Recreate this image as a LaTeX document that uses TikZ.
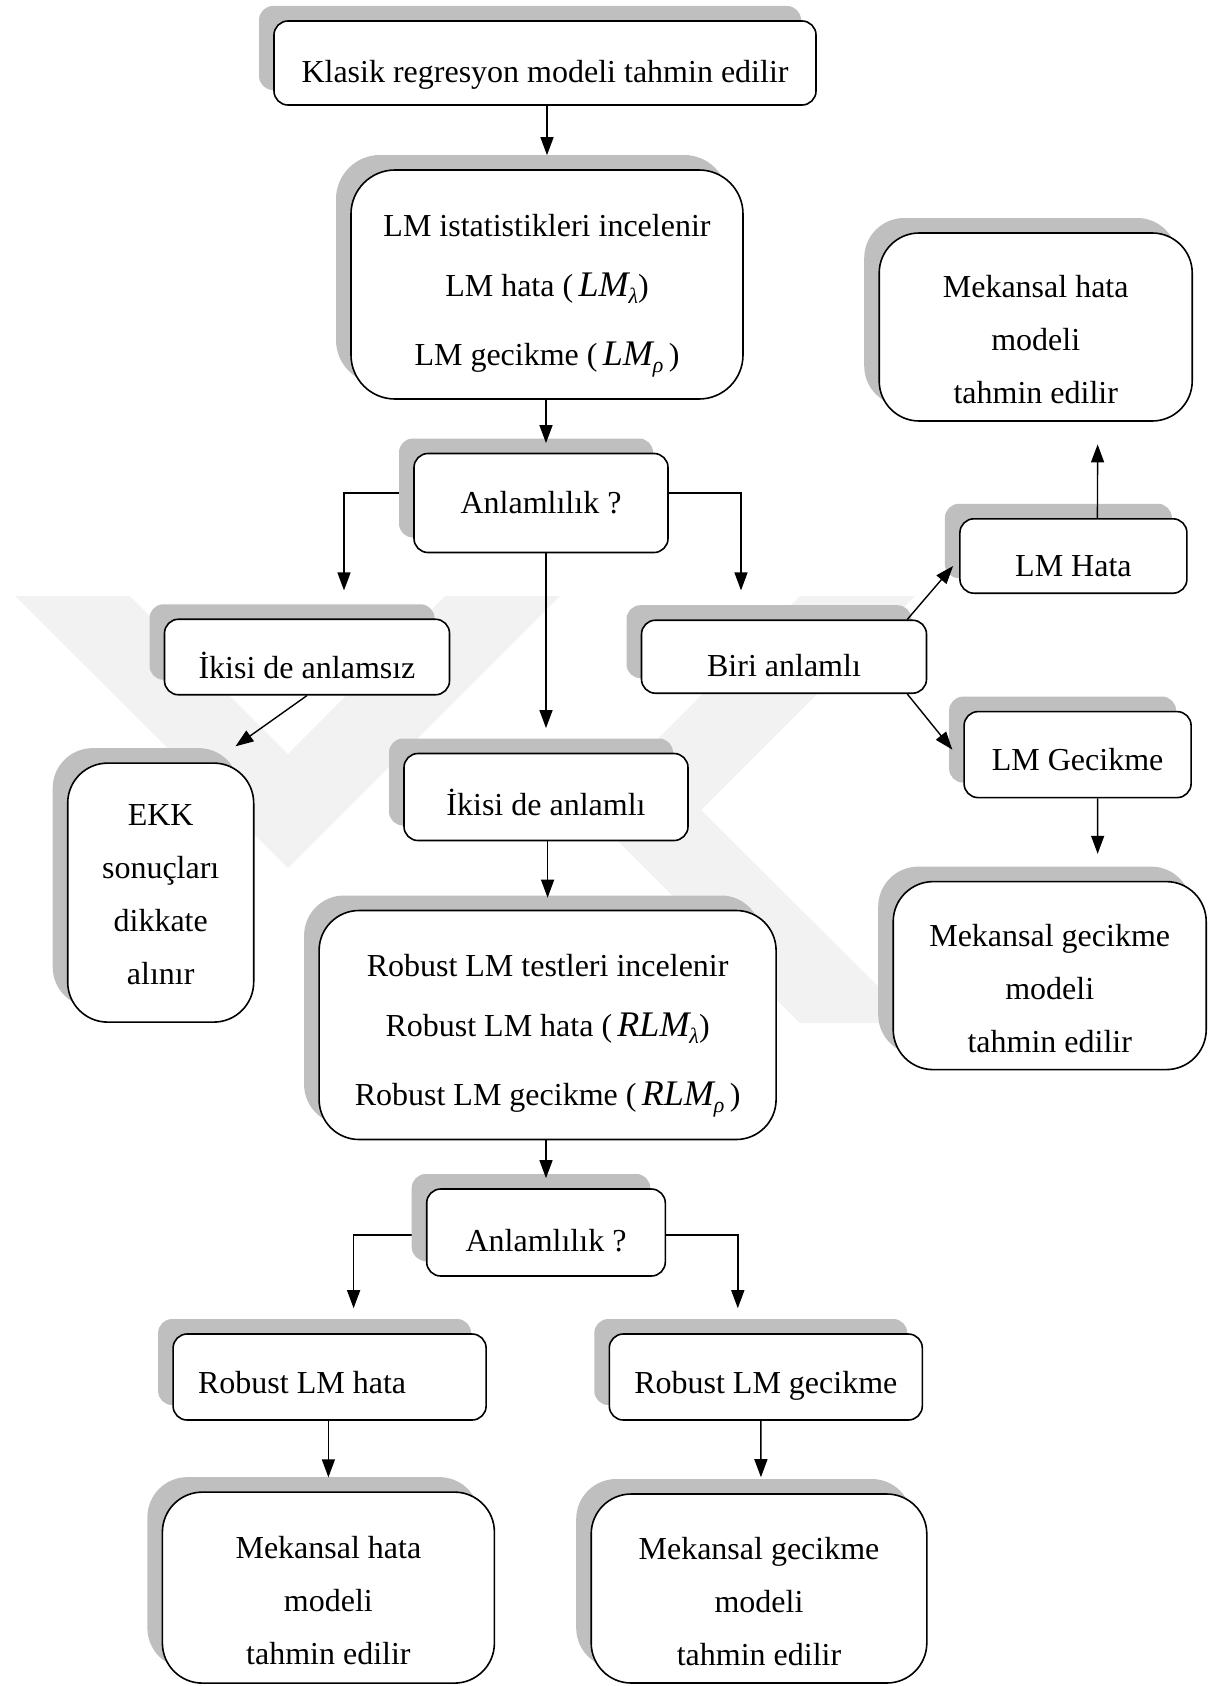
\documentclass[tikz,border=0pt]{standalone}
\usepackage{fontspec}
\setmainfont{Liberation Serif}
\usetikzlibrary{shadows,arrows.meta,backgrounds,calc}
\newcommand{\lmsym}[2]{{\fontsize{18}{18}\selectfont\itshape #1}\raisebox{-3.5pt}{\fontsize{11}{11}\selectfont\itshape #2}}
\begin{document}
\begin{tikzpicture}[x=0.5pt,y=-0.5pt,
  box/.style={draw=black, line width=0.8pt, fill=white, rounded corners=7pt,
    align=center, inner sep=0pt, font=\fontsize{16}{26.5}\selectfont,
    general shadow={fill=gray!50, shadow xshift=-7.5pt, shadow yshift=7.5pt}},
  bigbox/.style={box, rounded corners=20pt},
  base/.style={text height=#1, text depth=0pt},
  conn/.style={line width=0.7pt, black},
  arr/.style={conn, -{Triangle[length=9pt,width=6.5pt]}},
  wm/.style={fill=black!5, draw=none}]
\useasboundingbox (0,0) rectangle (1219,1686);

% watermark
\begin{scope}[on background layer]
  \fill[wm] (15,596) -- (130,596) -- (288,754) -- (445,596) -- (560,596) -- (288,868) -- cycle;
  \fill[wm] (800,596) -- (915,596) -- (701,810) -- (915,1023) -- (800,1023) -- (587,810) -- cycle;
\end{scope}

% boxes
\node[box, base=20pt, minimum width=271pt, minimum height=42pt] (klasik) at (545,63) {Klasik regresyon modeli tahmin edilir};
\node[bigbox, rounded corners=22pt, minimum width=196pt, minimum height=114.5pt] (lm) at (547,284.5)
  {\rule{0pt}{22pt}LM istatistikleri incelenir\\[3.5pt] LM hata (\,\lmsym{LM}{λ})\\[8pt] LM gecikme (\,\lmsym{LM}{ρ}\,)};
\node[box, base=10pt, minimum width=127pt, minimum height=49.5pt] (anla) at (541,503) {Anlamlılık ?};
\node[box, base=21pt, minimum width=142.5pt, minimum height=37.75pt] (anlamsiz) at (307,657) {İkisi de anlamsız};
\node[bigbox, minimum width=93pt, minimum height=129.5pt] (ekk) at (160.7,892.6) {\rule{0pt}{13pt}EKK\\sonuçları\\dikkate\\alınır};
\node[box, base=18pt, minimum width=142pt, minimum height=43.5pt] (anlamli) at (546,797) {İkisi de anlamlı};
\node[bigbox, minimum width=228.5pt, minimum height=114.5pt] (robust) at (547.6,1025)
  {\rule{0pt}{22pt}Robust LM testleri incelenir\\[3.5pt] Robust LM hata (\,\lmsym{RLM}{λ})\\[8pt] Robust LM gecikme (\,\lmsym{RLM}{ρ}\,)};
\node[box, base=19pt, minimum width=119.3pt, minimum height=43.5pt] (anlb) at (546,1232.5) {Anlamlılık ?};
\node[box, base=16pt, minimum width=156.5pt, minimum height=43pt] (rhata) at (329.6,1377) {Robust LM hata\rule{27.5pt}{0pt}};
\node[box, base=16pt, minimum width=156.5pt, minimum height=43pt] (rgec) at (765.8,1377) {Robust LM gecikme};
\node[bigbox, minimum width=166pt, minimum height=95.5pt] (mhatab) at (328.4,1587.6) {\rule{0pt}{24pt}Mekansal hata\\modeli\\tahmin edilir};
\node[bigbox, minimum width=167.8pt, minimum height=94.5pt] (mgecb) at (759,1588.5) {\rule{0pt}{24pt}Mekansal gecikme\\modeli\\tahmin edilir};
\node[box, base=20pt, minimum width=142.5pt, minimum height=36.5pt] (biri) at (784,656.7) {Biri anlamlı};
\node[box, base=20.5pt, minimum width=113.5pt, minimum height=37.2pt] (lmhata) at (1073.4,556) {LM Hata};
\node[bigbox, minimum width=156.5pt, minimum height=94pt] (mhataa) at (1035.7,327) {\rule{0pt}{24pt}Mekansal hata\\modeli\\tahmin edilir};
\node[box, base=15.5pt, minimum width=113.5pt, minimum height=43pt] (lmgec) at (1077.6,754.6) {LM Gecikme};
\node[bigbox, minimum width=156.5pt, minimum height=94pt] (mgeca) at (1049.7,975.6) {\rule{0pt}{24pt}Mekansal gecikme\\modeli\\tahmin edilir};

% elbow connectors (behind the shadows)
\begin{scope}[on background layer]
  \draw[arr] ($(anla.west)+(0,-10)$) -| ($(anlamsiz.north)+(37,-28)$);
  \draw[arr] ($(anla.east)+(0,-10)$) -| ($(biri.north)+(-43,-29)$);
  \draw[arr] ($(anlb.west)+(0,2.5)$) -| ($(rhata.north)+(24,-25)$);
  \draw[arr] ($(anlb.east)+(0,2.5)$) -| ($(rgec.north)+(-28,-25)$);
\end{scope}

% straight connectors
\draw[arr, shorten >=7pt] (lm.north |- klasik.south) -- (lm.north);
\draw[arr, shorten >=4.8pt] (lm.south -| anla.north) ++(5,0) coordinate (lmout) -- (lmout |- anla.north);
\draw[arr, shorten >=12.3pt] (anlamli.north |- anla.south) -- (anlamli.north);
\draw[arr, shorten >=6pt] (anlamli.south -| robust.north) -- (robust.north);
\draw[arr, shorten >=5pt] (robust.south -| anlb.north) -- (anlb.north);
\draw[arr] (anlamsiz.south) -- ($(ekk.north east)+(-19,-16)$);
\draw[arr] ($(biri.north east)+(-20,0)$) -- ($(lmhata.west)+(-6,10)$);
\draw[arr] ($(biri.south east)+(-20,0)$) -- ($(lmgec.west)+(-11,-5)$);
\draw[arr, shorten >=11.3pt] ($(lmhata.north)+(24,0)$) -- ($(mhataa.south)+(62,0)$);
\draw[arr, shorten >=13.5pt] ($(lmgec.south)+(20,0)$) -- ($(mgeca.north)+(48,0)$);
\draw[arr, shorten >=7pt] (mhatab.north |- rhata.south) -- (mhatab.north);
\draw[arr, shorten >=8pt] ($(rgec.south)+(-5,0)$) -- ($(mgecb.north)+(2,0)$);
\end{tikzpicture}
\end{document}
